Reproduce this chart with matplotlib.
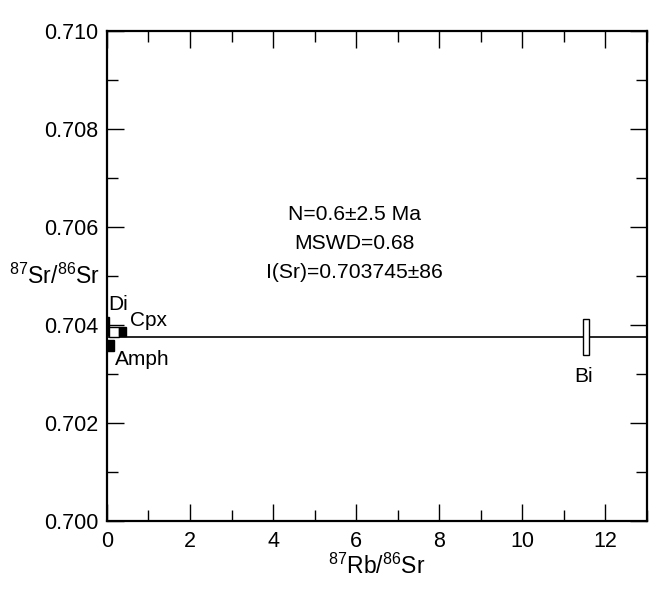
import matplotlib
matplotlib.use("Agg")
import matplotlib.pyplot as plt
from matplotlib.patches import Rectangle
from matplotlib.ticker import MultipleLocator, FormatStrFormatter

plt.rcParams['font.family'] = ['Liberation Sans', 'DejaVu Sans']
plt.rcParams['mathtext.fontset'] = 'custom'
plt.rcParams['mathtext.rm'] = 'Liberation Sans'

# Data: Rb/Sr ratio, Sr ratio, half-widths of error boxes
names = ["Di", "", "Cpx", "Amph", "Bi"]
rb_sr = [0.025, 0.17, 0.375, 0.085, 11.54]
sr_sr = [0.70398, 0.70386, 0.70386, 0.70358, 0.703755]
err_x = [0.025, 0.12, 0.085, 0.085, 0.072]
err_y = [0.00019, 0.000095, 0.00009, 0.00011, 0.000367]
filled = [True, False, True, True, False]

iso_intercept = 0.70376
iso_slope = 0.0
x_range = [0, 13]

annot_lines = ["N=0.6±2.5 Ma", "MSWD=0.68", "I(Sr)=0.703745±86"]
annot_y = [0.70614, 0.70555, 0.70496]

label_pos = {"Di": (0.03, 0.70431), "Cpx": (0.55, 0.70397), "Amph": (0.19, 0.70318), "Bi": (11.47, 0.70284)}
label_ha = {"Di": "left", "Cpx": "left", "Amph": "left", "Bi": "center"}

fig = plt.figure(figsize=(6.6, 5.94), dpi=100)
ax = fig.add_axes([0.162, 0.1229, 0.818, 0.8249])

ax.plot(x_range, [iso_intercept + iso_slope * v for v in x_range], color='black', lw=1.2, zorder=2)

for n, x, y, ex, ey, f in zip(names, rb_sr, sr_sr, err_x, err_y, filled):
    ax.add_patch(Rectangle((x - ex, y - ey), 2 * ex, 2 * ey,
                           facecolor='black' if f else 'white', edgecolor='black',
                           lw=1.0, zorder=3))

for n in names:
    if n:
        px, py = label_pos[n]
        ax.text(px, py, n, fontsize=15, ha=label_ha[n], va='baseline', zorder=4)

for t, yy in zip(annot_lines, annot_y):
    ax.text(5.97, yy, t, fontsize=15.2, ha='center', va='baseline')

ax.set_xlim(0, 13)
ax.set_ylim(0.700, 0.710)
ax.xaxis.set_major_locator(MultipleLocator(2))
ax.xaxis.set_minor_locator(MultipleLocator(1))
ax.yaxis.set_major_locator(MultipleLocator(0.002))
ax.yaxis.set_minor_locator(MultipleLocator(0.001))
ax.yaxis.set_major_formatter(FormatStrFormatter('%.3f'))
ax.tick_params(which='both', direction='in', top=True, right=True, labelsize=15.5, width=1.0)
ax.tick_params(axis='x', which='major', length=12, pad=7)
ax.tick_params(axis='y', which='major', length=12, pad=6)
ax.tick_params(which='minor', length=8)
for s in ax.spines.values():
    s.set_linewidth(1.6)

ax.set_xlabel(r"$^{87}$Rb/$^{86}$Sr", fontsize=16.5)
ax.set_ylabel(r"$^{87}$Sr/$^{86}$Sr", fontsize=16.5, rotation=0, ha='right', va='center')
ax.yaxis.set_label_coords(-0.012, 0.50)
ax.xaxis.set_label_coords(0.5, -0.067)

fig.savefig("out.png", dpi=100)
